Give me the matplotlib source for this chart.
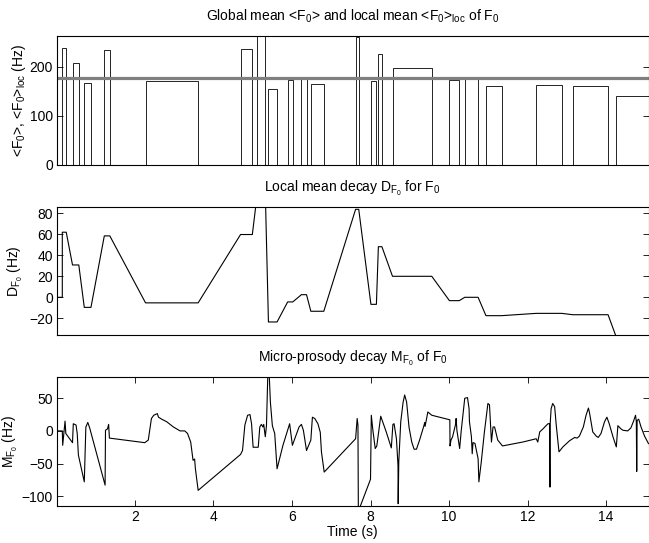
import matplotlib
matplotlib.use("Agg")
import matplotlib.pyplot as plt

plt.rcParams['font.family'] = ['Liberation Sans', 'DejaVu Sans']
plt.rcParams['mathtext.fontset'] = 'custom'
plt.rcParams['mathtext.rm'] = 'Liberation Sans'
plt.rcParams['mathtext.it'] = 'Liberation Sans'
plt.rcParams['mathtext.bf'] = 'Liberation Sans'
plt.rcParams['font.size'] = 10

# voiced segments (s) and local mean F0 (Hz)
seg_start = [0.15, 0.41, 0.71, 1.22, 2.27, 4.69, 5.12, 5.40, 5.89, 6.24, 6.48,
             7.62, 8.01, 8.20, 8.56, 10.01, 10.40, 10.94, 12.22, 13.15, 14.26]
seg_end = [0.25, 0.57, 0.88, 1.36, 3.61, 4.99, 5.32, 5.62, 6.02, 6.37, 6.81,
           7.70, 8.15, 8.29, 9.56, 10.26, 10.74, 11.34, 12.87, 14.05, 15.25]
f0_loc = [238, 207.5, 168, 235, 171, 236, 277, 154, 173.5, 180, 164.5,
          260, 171, 226, 197, 174, 176, 160.6, 162.6, 162, 141]
f0_global = 177.5

# local mean decay per segment
d_lead_t = [0.05, 0.15]
d_lead_v = [0, 0]
d_seg = [62, 30.8, -9.6, 58.5, -5.3, 59.8, 100, -23.5, -4.4, 2.5, -13.3,
         83.8, -6.7, 48.2, 20, -3.2, 0, -17.5, -15.3, -16.6, -38]

# micro-prosody decay
m_t = [0.01, 0.15, 0.16, 0.22, 0.24, 0.41, 0.43, 0.50, 0.53, 0.56, 0.71, 0.75,
       0.80, 0.85, 1.24, 1.25, 1.30, 1.33, 1.35, 2.25, 2.34, 2.42, 2.48, 2.57,
       2.60, 2.68, 2.81, 2.98, 3.15, 3.27, 3.34, 3.42, 3.48, 3.52, 3.54, 3.61,
       4.69, 4.74, 4.80, 4.87, 4.93, 4.97, 5.01, 5.14, 5.18, 5.22, 5.26, 5.28,
       5.32, 5.35, 5.39, 5.41, 5.45, 5.50, 5.56, 5.62, 5.77, 5.94, 6.01, 6.18,
       6.24, 6.29, 6.37, 6.48, 6.52, 6.58, 6.66, 6.72, 6.75, 6.82, 7.62, 7.66,
       7.68, 7.69, 7.71, 8.00, 8.02, 8.06, 8.12, 8.16, 8.26, 8.40, 8.53, 8.57,
       8.60, 8.66, 8.70, 8.705, 8.72, 8.77, 8.83, 8.87, 8.92, 8.98, 9.05, 9.11,
       9.17, 9.25, 9.36, 9.38, 9.39, 9.46, 9.56, 10.02, 10.025, 10.05, 10.09,
       10.17, 10.18, 10.20, 10.27, 10.31, 10.40, 10.47, 10.51, 10.52, 10.57,
       10.59, 10.61, 10.66, 10.74, 10.76, 10.82, 10.90, 10.99, 11.03, 11.08,
       11.12, 11.16, 11.24, 11.36, 11.88, 12.22, 12.26, 12.31, 12.39, 12.52,
       12.56, 12.57, 12.575, 12.60, 12.64, 12.69, 12.73, 12.80, 12.90, 13.07,
       13.20, 13.26, 13.32, 13.42, 13.49, 13.55, 13.58, 13.66, 13.75, 13.80,
       13.87, 13.96, 14.02, 14.08, 14.17, 14.26, 14.30, 14.38, 14.43, 14.55,
       14.63, 14.70, 14.75, 14.77, 14.78, 14.79, 14.83, 14.89, 14.98, 15.08]
m_v = [0, 0, -22, 15, -4, -18, 11, 9, -4, -37, -78, 6,
       13, 4, -83, 1, 3, 10, -11, -18, -14, 19, 24, 26.5,
       21, 18, 14, 6, 0, 0, -4, -17, -45, -43, -58, -91,
       -36, -30, 9, 24, 25, 11, -25, -25, 6, 10, 6, 10,
       -9, 8, 100, 100, 44, 8, -4, -58, -22, 11, -22, 6,
       10, 1, -30, -14, 21, 19, 11, -2, -32, -63, -12, 19,
       9, -120, -120, -74, 24, 1, -27, -23, 22.5, -1.5, -26, 10,
       11, -12, -53, -111.5, -47, 14, 44, 55, 44, 6, -17, -28,
       -28, -14, 8, 13, 7, 29, 24, 17, -23, -14, -9,
       11, 19, 1, -27, 0, 50, 51, 34, 14, -9,
       -35, -18, -19, -42.5, -78, -48, -2, 42, 40, -17,
       6, 6, -14, -23, -17, -12, -17, -1.5, 3, 11,
       11, -86, 10, 34, 42, 37, 9, -32, -24.5, -15,
       -10, -11, -8, 6, 24, 35, 27, -1.5, -8, -10,
       -4, 14, 21, 11, -8, -24.5, 8, 3, 1, 0,
       4.5, 15, 24, 14, -62, 16, 18, 6, -8, -19.5]

xlim = (0.015, 15.08)

fig = plt.figure(figsize=(6.49, 5.43), dpi=100)
W, H = 649, 543


def make_ax(top, bottom):
    ax = fig.add_axes([57 / W, 1 - bottom / H, (648.5 - 57) / W, (bottom - top) / H])
    ax.tick_params(direction='in', length=4, width=0.6, top=True, right=True,
                   labelsize=10, pad=3)
    for s in ax.spines.values():
        s.set_linewidth(0.8)
    ax.set_xlim(*xlim)
    return ax


# top panel
ax1 = make_ax(36, 165)
widths = [e - s for s, e in zip(seg_start, seg_end)]
ax1.bar(seg_start, f0_loc, width=widths, align='edge', fill=False,
        edgecolor='black', linewidth=0.6)
ax1.axhline(f0_global, color='#808080', linewidth=2.3)
ax1.set_ylim(0, 263)
ax1.set_yticks([0, 100, 200])
ax1.set_xticks([])
ax1.set_title(r"Global mean <F$_0$> and local mean <F$_0$>$_{\rm loc}$ of F$_0$",
              fontsize=10, pad=11)
ax1.set_ylabel(r"<F$_0$>, <F$_0$>$_{\rm loc}$ (Hz)", fontsize=10, labelpad=1)

# middle panel
ax2 = make_ax(206.7, 335.3)
d_t = list(d_lead_t)
d_v = list(d_lead_v)
for s, e, d in zip(seg_start, seg_end, d_seg):
    d_t += [s, e]
    d_v += [d, d]
ax2.plot(d_t, d_v, color='black', linewidth=0.8)
ax2.set_ylim(-36.2, 86.3)
ax2.set_yticks([-20, 0, 20, 40, 60, 80])
ax2.set_xticks([])
ax2.set_title(r"Local mean decay D$_{F_0}$ for F$_0$", fontsize=10, pad=11)
ax2.set_ylabel(r"D$_{F_0}$ (Hz)", fontsize=10, labelpad=3)

# bottom panel
ax3 = make_ax(376.7, 505.7)
ax3.plot(m_t, m_v, color='black', linewidth=0.8)
ax3.set_ylim(-114.5, 83)
ax3.set_yticks([-100, -50, 0, 50])
ax3.set_xticks([2, 4, 6, 8, 10, 12, 14])
ax3.set_title(r"Micro-prosody decay M$_{F_0}$ of F$_0$", fontsize=10, pad=11)
ax3.set_ylabel(r"M$_{F_0}$ (Hz)", fontsize=10, labelpad=1)
ax3.set_xlabel("Time (s)", fontsize=10, labelpad=1)

fig.savefig("out.png", dpi=100)
